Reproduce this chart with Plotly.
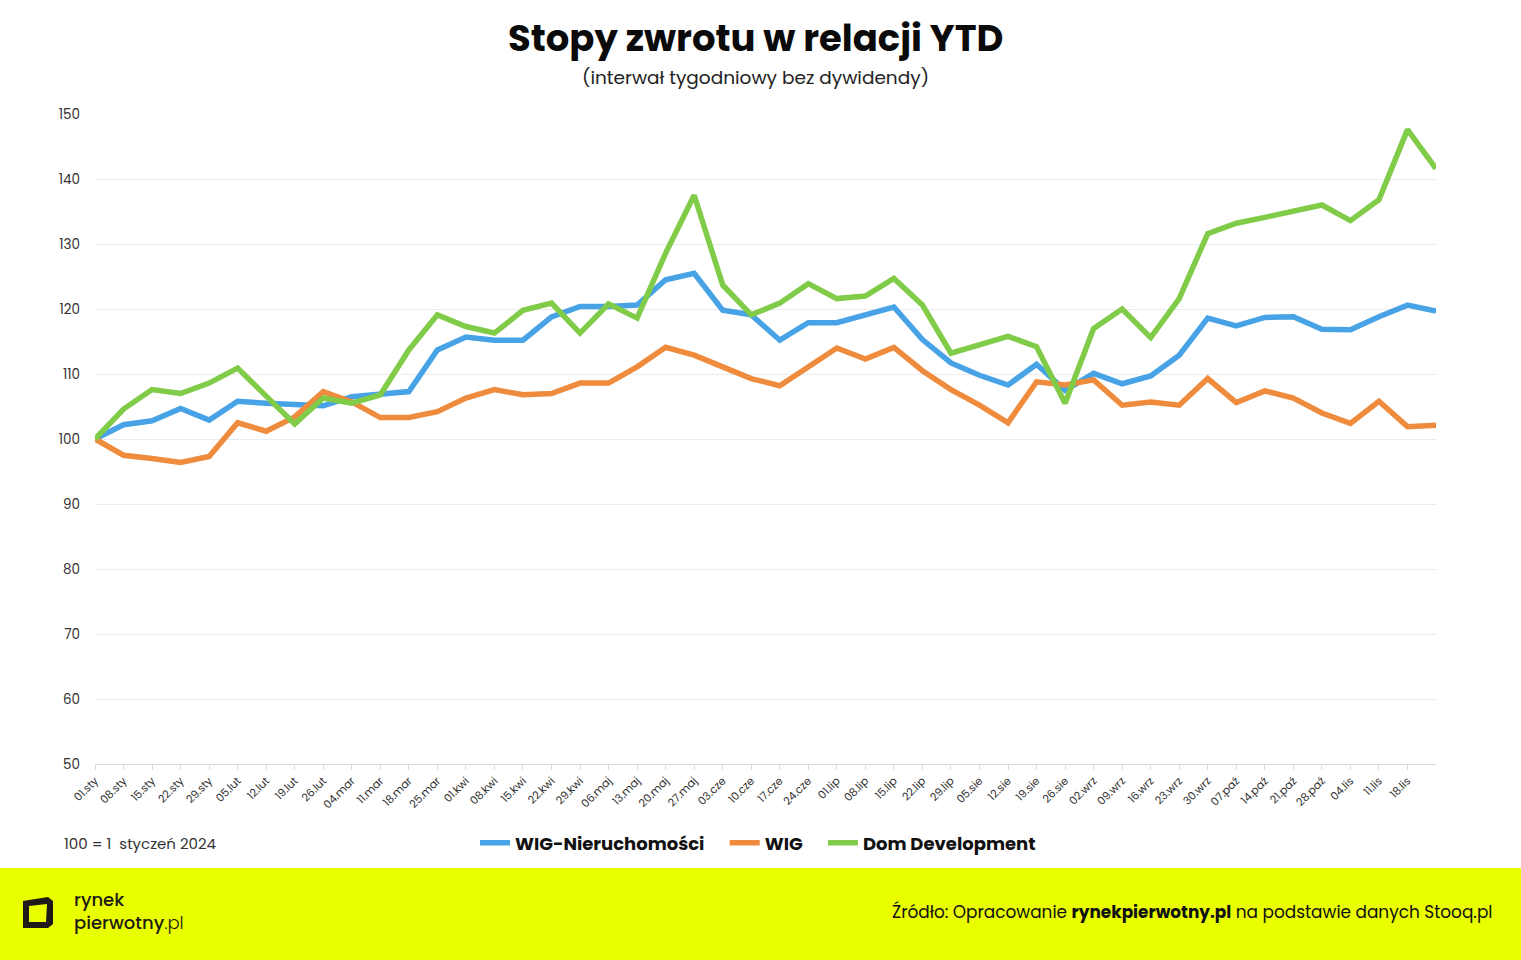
import plotly.graph_objects as go

# ---- data ----
dates = ["01.sty", "08.sty", "15.sty", "22.sty", "29.sty", "05.lut", "12.lut", "19.lut", "26.lut",
         "04.mar", "11.mar", "18.mar", "25.mar", "01.kwi", "08.kwi", "15.kwi", "22.kwi", "29.kwi",
         "06.maj", "13.maj", "20.maj", "27.maj", "03.cze", "10.cze", "17.cze", "24.cze", "01.lip",
         "08.lip", "15.lip", "22.lip", "29.lip", "05.sie", "12.sie", "19.sie", "26.sie", "02.wrz",
         "09.wrz", "16.wrz", "23.wrz", "30.wrz", "07.paź", "14.paź", "21.paź", "28.paź", "04.lis",
         "11.lis", "18.lis", "25.lis"]
tick_labels = dates[:47]

wig_nieruchomosci = [100.0, 102.2, 102.8, 104.7, 102.9, 105.8, 105.5, 105.2, 105.1, 106.5,
                     106.9, 107.3, 113.7, 115.7, 115.2, 115.2, 118.8, 120.4, 120.4, 120.6,
                     124.5, 125.5, 119.8, 119.1, 115.2, 117.9, 117.9, 119.1, 120.3, 115.3,
                     111.7, 109.8, 108.3, 111.5, 107.5, 110.1, 108.5, 109.7, 112.9, 118.6,
                     117.4, 118.7, 118.8, 116.9, 116.8, 118.8, 120.6, 119.7]
wig = [100.0, 97.5, 97.0, 96.4, 97.3, 102.5, 101.2, 103.4, 107.3, 105.7,
       103.3, 103.3, 104.2, 106.3, 107.6, 106.8, 107.0, 108.6, 108.6, 111.1,
       114.1, 112.9, 111.1, 109.3, 108.2, 111.1, 114.0, 112.3, 114.1, 110.5,
       107.6, 105.2, 102.5, 108.8, 108.3, 109.1, 105.2, 105.7, 105.2, 109.3,
       105.6, 107.4, 106.3, 104.0, 102.4, 105.8, 101.9, 102.1]
dom_development = [100.0, 104.6, 107.6, 107.0, 108.6, 110.9, 106.6, 102.3, 106.3, 105.5,
                   106.8, 113.7, 119.1, 117.3, 116.3, 119.8, 120.9, 116.3, 120.8, 118.6,
                   128.6, 137.5, 123.7, 119.1, 120.9, 123.9, 121.6, 122.0, 124.7, 120.6,
                   113.2, 114.5, 115.8, 114.2, 105.5, 117.0, 120.0, 115.6, 121.6, 131.6,
                   133.2, 134.1, 135.1, 136.0, 133.6, 136.8, 147.6, 141.6]

series_names = ["WIG-Nieruchomości", "WIG", "Dom Development"]
series_values = [wig_nieruchomosci, wig, dom_development]
series_colors = ["#47A3E6", "#EF8B3D", "#80CB47"]

# ---- layout helpers (pixel -> paper) ----
W, H = 1521, 960
L, R, T, B = 95, 1436, 114, 764


def px(x):
    return (x - L) / (R - L)


def py(y):
    return (B - y) / (B - T)


FONT = "Poppins, Inter, 'Open Sans', sans-serif"
GAP = "\u00a0" * 4

fig = go.Figure()
for k, (name, vals, col) in enumerate(zip(series_names, series_values, series_colors)):
    label = name + (GAP if k < len(series_names) - 1 else "")
    fig.add_trace(go.Scatter(x=dates, y=vals, name=label, mode="lines",
                             line=dict(color=col, width=5.5, shape="linear"),
                             hovertemplate="%{x}: %{y:.1f}<extra>" + name + "</extra>"))

shapes = [
    # yellow footer band
    dict(type="rect", xref="paper", yref="paper", x0=px(-10), x1=px(W + 10),
         y0=py(868), y1=py(H + 10), fillcolor="#E9FF00", line=dict(width=0), layer="below"),
    # logo icon
    dict(type="path", xref="paper", yref="paper",
         path=(f"M {px(23)},{py(901)} L {px(48)},{py(897)} L {px(53)},{py(901)} L {px(53)},{py(924)} "
               f"L {px(48)},{py(928)} L {px(23)},{py(928)} Z "
               f"M {px(29)},{py(906)} L {px(29)},{py(922)} L {px(46)},{py(922)} L {px(47)},{py(904)} Z"),
         fillcolor="#1E1A17", line=dict(width=0)),
]

annotations = [
    dict(text="<b>Stopy zwrotu w relacji YTD</b>", xref="paper", yref="paper", x=px(755), y=py(38),
         xanchor="center", yanchor="middle", showarrow=False,
         font=dict(family=FONT, size=37, color="#0a0a0a", weight=800)),
    dict(text="(interwał tygodniowy bez dywidendy)", xref="paper", yref="paper", x=px(755), y=py(77),
         xanchor="center", yanchor="middle", showarrow=False,
         font=dict(family=FONT, size=18.5, color="#222222")),
    dict(text="100 = 1  styczeń 2024", xref="paper", yref="paper", x=px(62), y=py(843),
         xanchor="left", yanchor="middle", showarrow=False,
         font=dict(family=FONT, size=15, color="#333333")),
    dict(text="rynek<br>pierwotny<span style='font-weight:300'>.pl</span>", xref="paper", yref="paper",
         x=px(72), y=py(911), xanchor="left", yanchor="middle", align="left", showarrow=False,
         font=dict(family=FONT, size=18, color="#1E1A17", weight=500)),
    dict(text="Źródło: Opracowanie <b>rynekpierwotny.pl</b> na podstawie danych Stooq.pl",
         xref="paper", yref="paper", x=px(1494), y=py(912), xanchor="right", yanchor="middle",
         showarrow=False, font=dict(family=FONT, size=16.9, color="#111111")),
]

fig.update_layout(
    width=W, height=H,
    margin=dict(l=L, r=W - R, t=T, b=H - B),
    paper_bgcolor="white", plot_bgcolor="white",
    showlegend=True,
    legend=dict(orientation="h", x=px(758), y=py(843), xanchor="center", yanchor="middle",
                font=dict(family=FONT, size=18, color="#111111", weight=700),
                bgcolor="rgba(0,0,0,0)", itemwidth=30, tracegroupgap=0),
    shapes=shapes,
    annotations=annotations,
    xaxis=dict(type="category", range=[0, len(dates) - 1], tickmode="array",
               tickvals=tick_labels, ticktext=tick_labels, tickangle=-45,
               showgrid=False, showline=True, linecolor="#d9d9d9", linewidth=1,
               ticks="outside", ticklen=5, tickcolor="#d9d9d9",
               tickfont=dict(family=FONT, size=11, color="#333333"), fixedrange=True),
    yaxis=dict(range=[50, 150], dtick=10, showgrid=True, gridcolor="#ececec", gridwidth=1,
               zeroline=False, showline=False, ticks="", ticklabelstandoff=14,
               tickfont=dict(family=FONT, size=13.5, color="#333333"), fixedrange=True),
    hovermode="x unified",
)

fig.write_html("out.html")
